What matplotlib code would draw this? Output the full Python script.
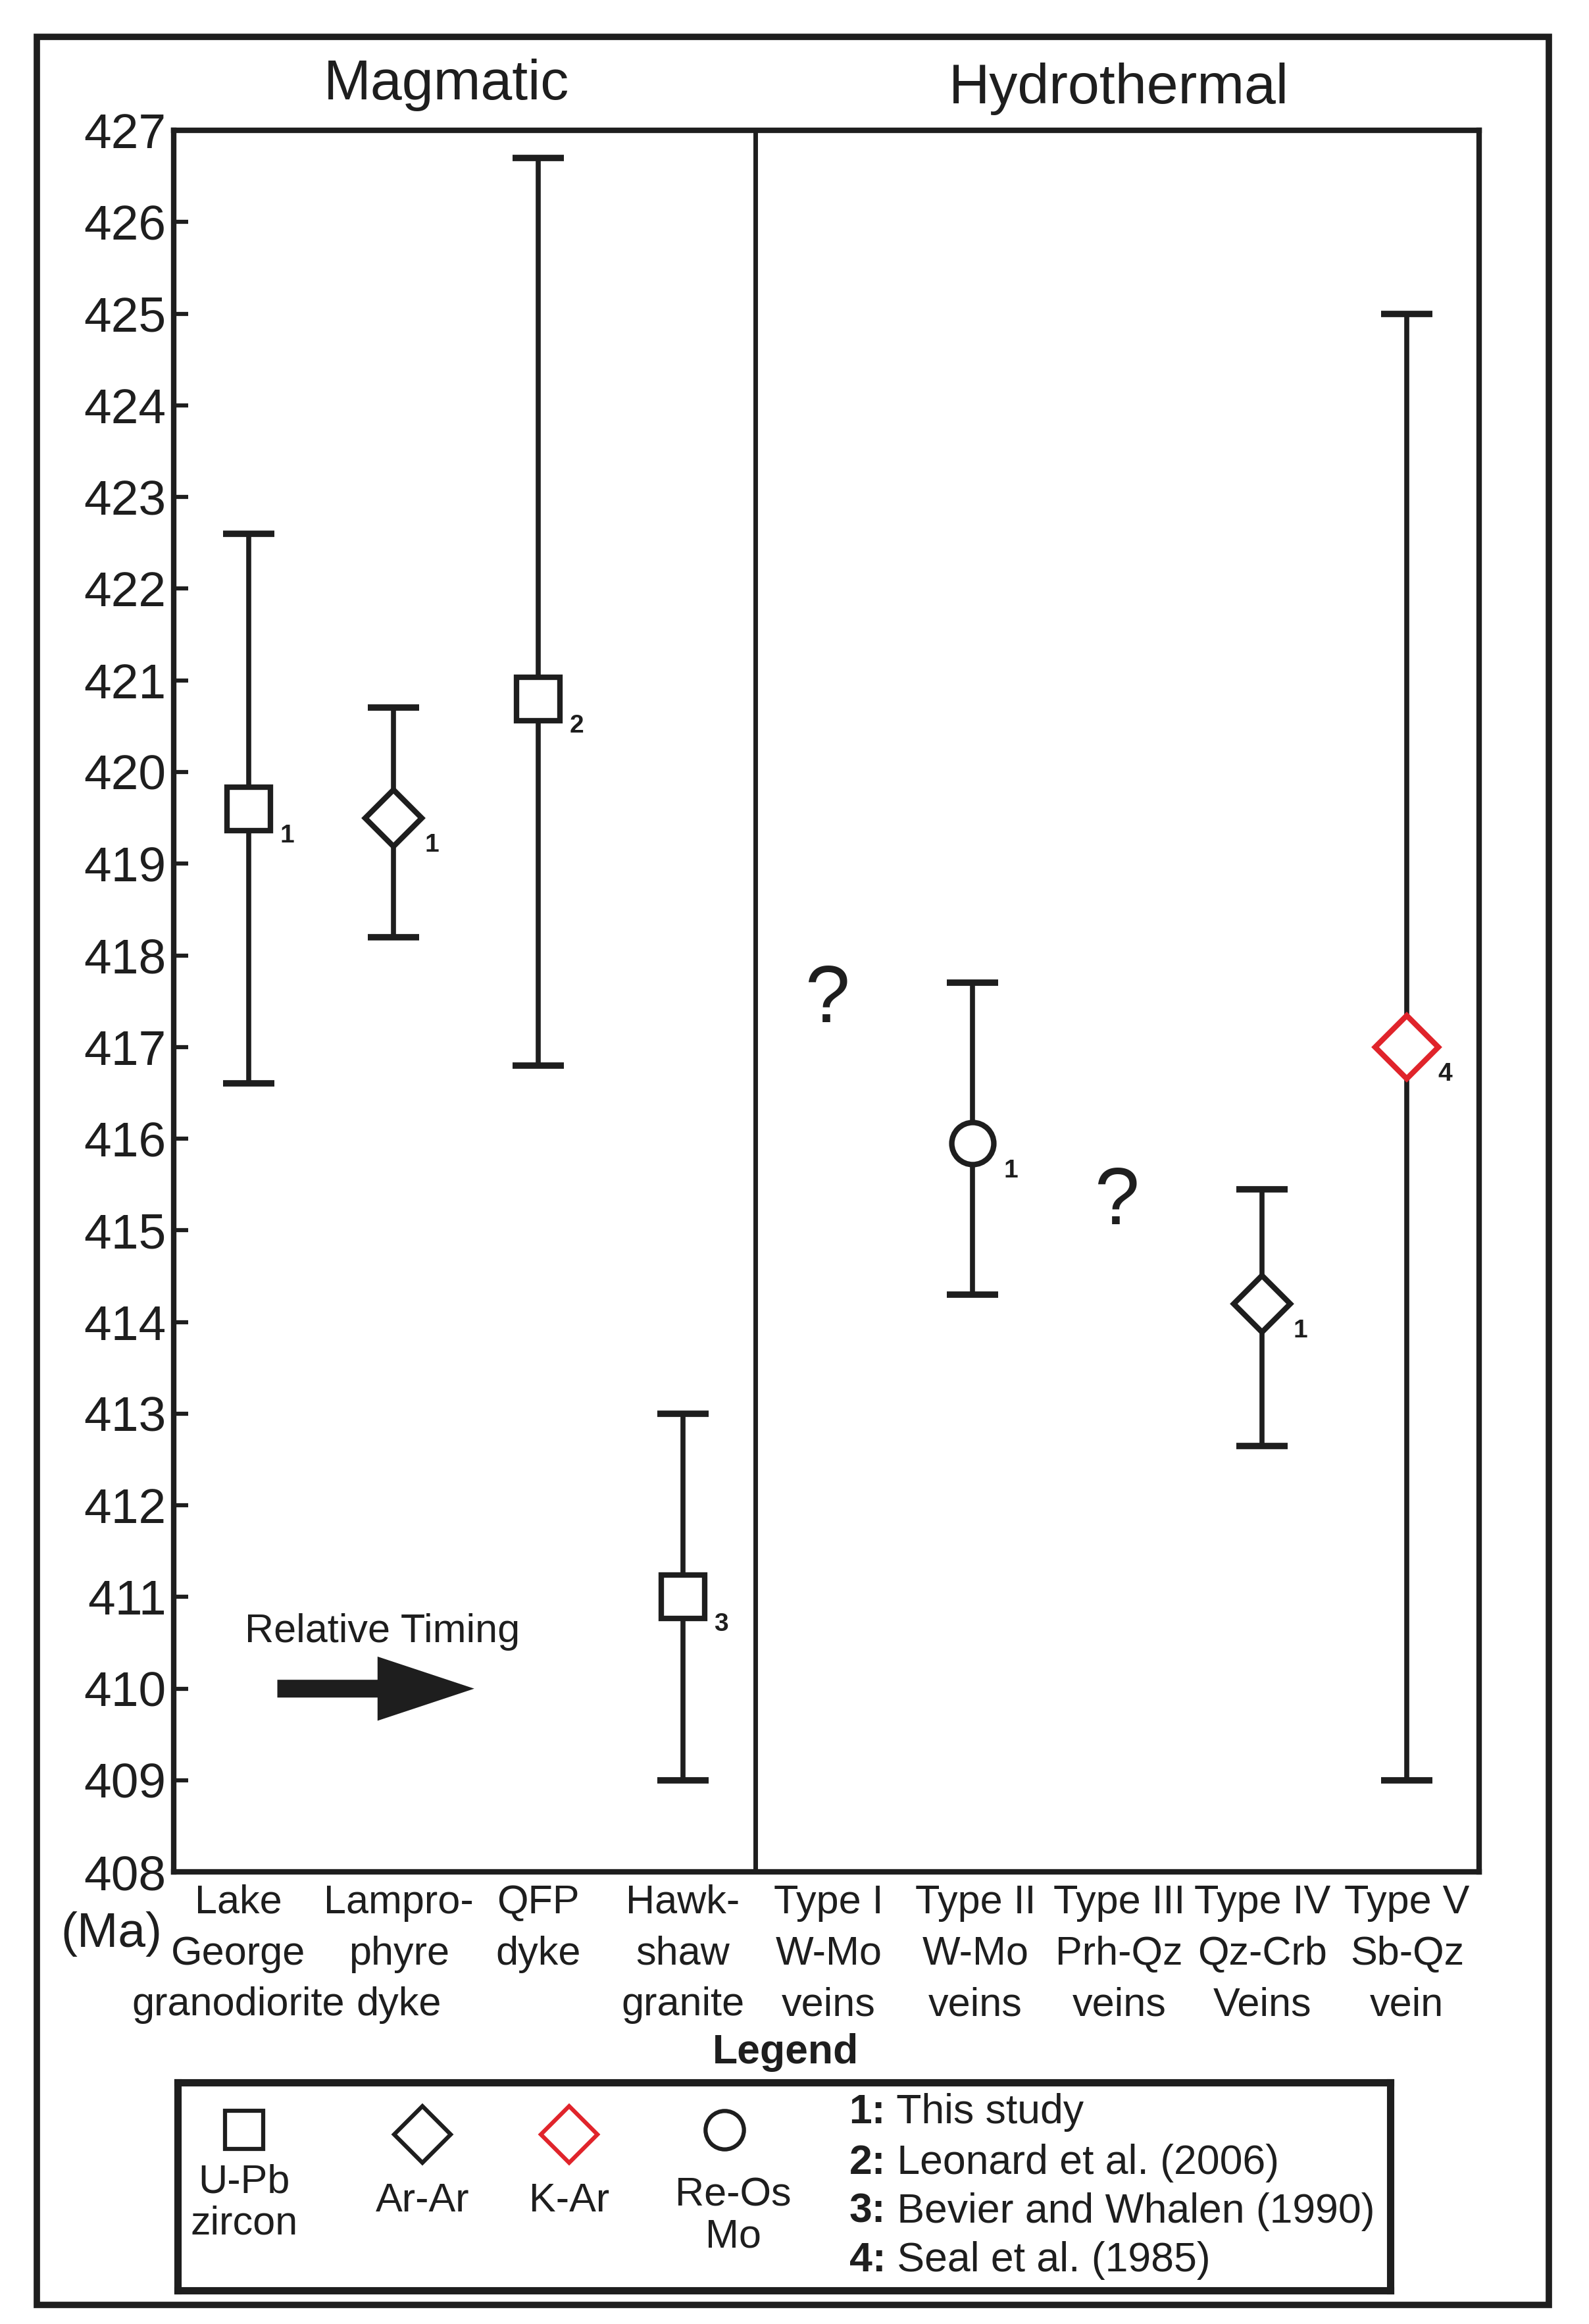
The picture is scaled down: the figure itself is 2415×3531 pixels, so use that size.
import numpy as np
import matplotlib
matplotlib.use("Agg")
import matplotlib.pyplot as plt
from matplotlib.patches import Rectangle, FancyArrow
from matplotlib.transforms import blended_transform_factory

plt.rcParams['font.family'] = ['Liberation Sans', 'DejaVu Sans']

# ---- data ----
categories = [['Lake', 'George', 'granodiorite'], ['Lampro-', 'phyre', 'dyke'], ['QFP', 'dyke'],
              ['Hawk-', 'shaw', 'granite'], ['Type I', 'W-Mo', 'veins'], ['Type II', 'W-Mo', 'veins'],
              ['Type III', 'Prh-Qz', 'veins'], ['Type IV', 'Qz-Crb', 'Veins'], ['Type V', 'Sb-Qz', 'vein']]
ages = [419.6, 419.5, 420.8, 411.0, np.nan, 415.95, np.nan, 414.2, 417.0]
upper = [422.6, 420.7, 426.7, 413.0, np.nan, 417.7, np.nan, 415.45, 425.0]
lower = [416.6, 418.2, 416.8, 409.0, np.nan, 414.3, np.nan, 412.65, 409.0]
methods = ['U-Pb', 'Ar-Ar', 'U-Pb', 'U-Pb', None, 'Re-Os', None, 'Ar-Ar', 'K-Ar']
refs = ['1', '1', '2', '3', None, '1', None, '1', '4']
unknown_idx = [4, 6]
unknown_y = [417.5, 415.3]
yticks = list(range(408, 428))

method_style = {'U-Pb': dict(marker='s', ms=47, mec='#1e1e1e'),
                'Ar-Ar': dict(marker='D', ms=44, mec='#1e1e1e'),
                'K-Ar': dict(marker='D', ms=49, mec='#e0242b'),
                'Re-Os': dict(marker='o', ms=46, mec='#1e1e1e')}
legend_methods = ['U-Pb', 'Ar-Ar', 'K-Ar', 'Re-Os']
legend_names = ['U-Pb\nzircon', 'Ar-Ar', 'K-Ar', 'Re-Os\nMo']
ref_list = [('1:', 'This study'), ('2:', 'Leonard et al. (2006)'),
            ('3:', 'Bevier and Whalen (1990)'), ('4:', 'Seal et al. (1985)')]

ink = '#1e1e1e'
# small horizontal nudges (points) for the category labels
label_dx = [-11, 6, 0, 0, 1, 3, 2, 0, 0]

fig = plt.figure(figsize=(24.15, 35.31), dpi=100)
ax = fig.add_axes([0.1092, 0.1945, 0.8218, 0.7494])

x = np.arange(len(categories))
for i in x:
    if methods[i] is None:
        continue
    yerr = [[ages[i] - lower[i]], [upper[i] - ages[i]]]
    ax.errorbar([i], [ages[i]], yerr=yerr, fmt='none', ecolor=ink,
                elinewidth=5.5, capsize=28, capthick=7, zorder=2)
    st = method_style[methods[i]]
    ax.plot([i], [ages[i]], linestyle='none', marker=st['marker'], ms=st['ms'],
            mfc='white', mec=st['mec'], mew=6, zorder=3)
    ax.annotate(refs[i], (i, ages[i]), xytext=(42, -30), textcoords='offset points',
                ha='center', va='center', fontsize=28, fontweight='bold', color=ink)

for i, yq in zip(unknown_idx, unknown_y):
    ax.text(i, yq, '?', ha='center', va='center', fontsize=88, color=ink)

ax.axvline(3.5, color=ink, lw=5, zorder=1)

ax.set_xlim(-0.518, 8.5)
ax.set_ylim(408, 427)
ax.set_yticks(yticks)
ax.set_yticklabels([str(t) for t in yticks])
ax.tick_params(axis='y', direction='in', length=16, width=4.5, pad=8,
               labelsize=54, colors=ink)
ax.set_xticks([])
for sp in ax.spines.values():
    sp.set_linewidth(6)
    sp.set_color(ink)

# category labels, one text per line
xtrans = blended_transform_factory(ax.transData, ax.transAxes)
for i, lines in enumerate(categories):
    for j, line in enumerate(lines):
        ax.annotate(line, (i, 0), xycoords=xtrans, xytext=(label_dx[i], -34 - 56 * j),
                    textcoords='offset points', ha='center', va='center',
                    fontsize=44, color=ink, annotation_clip=False)

ax.text(1.366, 1.026, 'Magmatic', transform=xtrans, ha='center', va='center',
        fontsize=62, color=ink)
ax.text(6.01, 1.024, 'Hydrothermal', transform=xtrans, ha='center', va='center',
        fontsize=62, color=ink)

ax.text(-0.027, 410.62, 'Relative Timing', ha='left', va='center', fontsize=44, color=ink)
ax.add_patch(FancyArrow(0.199, 410.0, 1.36, 0, width=0.194, head_width=0.70,
                        head_length=0.668, length_includes_head=True,
                        color=ink, lw=0))

fig.text(0.070, 0.1677, '(Ma)', ha='center', va='center', fontsize=54, color=ink)

# outer frame
fig.add_artist(Rectangle((0.0232, 0.0082), 0.9516, 0.9759, transform=fig.transFigure,
                         fill=False, lw=7, edgecolor=ink))

# legend
fig.text(0.4944, 0.1167, 'Legend', ha='center', va='center', fontsize=45,
         fontweight='bold', color=ink)
lax = fig.add_axes([0.1118, 0.0144, 0.7631, 0.0895])
lax.set_xlim(0, 1)
lax.set_ylim(0, 1)
lax.set_xticks([])
lax.set_yticks([])
for sp in lax.spines.values():
    sp.set_linewidth(8)
    sp.set_color(ink)

leg_marker_xy = [(0.055, 0.771), (0.2017, 0.75), (0.3227, 0.75), (0.451, 0.771)]
leg_text_xy = [(0.055, 0.42), (0.2017, 0.429), (0.3227, 0.429), (0.4584, 0.357)]
leg_ms = [42, 44, 44, 42]
for m, name, (mx, my), (tx, ty), ms in zip(legend_methods, legend_names, leg_marker_xy,
                                           leg_text_xy, leg_ms):
    st = method_style[m]
    lax.plot([mx], [my], linestyle='none', marker=st['marker'], ms=ms,
             mfc='white', mec=st['mec'], mew=4.5)
    lax.text(tx, ty, name, ha='center', va='center', fontsize=44, linespacing=1.15,
             color=ink)

ref_y = [0.857, 0.614, 0.379, 0.143]
for (num, txt), ry in zip(ref_list, ref_y):
    t = lax.text(0.5538, ry, num, ha='left', va='center', fontsize=45,
                 fontweight='bold', color=ink)
    lax.annotate(' ' + txt, xy=(1, 0.5), xycoords=t, xytext=(0, 0),
                 textcoords='offset points', ha='left', va='center',
                 fontsize=45, color=ink)

fig.savefig('out.png', dpi=100, facecolor='white')
